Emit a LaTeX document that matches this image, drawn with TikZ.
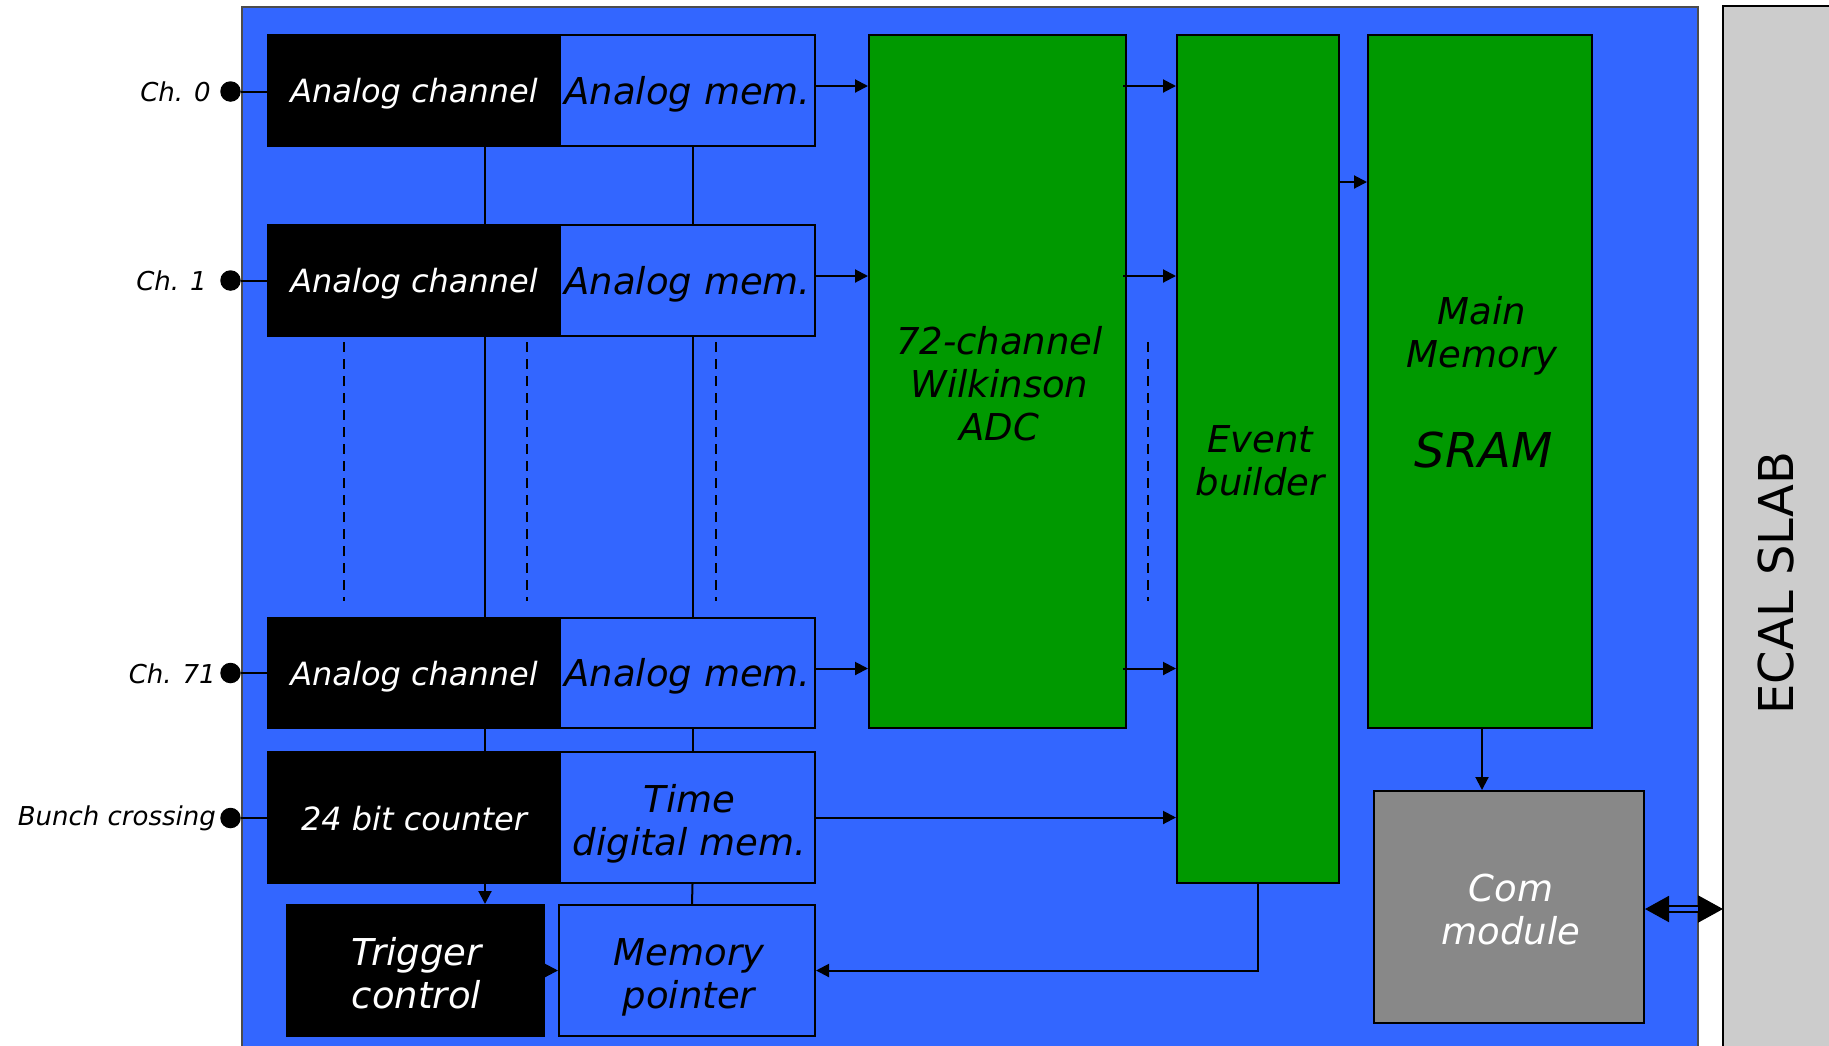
\documentclass[tikz,border=0pt]{standalone}
\usepackage{fontspec}
\setmainfont{DejaVu Sans}
\usetikzlibrary{arrows.meta,calc}
\definecolor{chipblue}{HTML}{3366FF}
\definecolor{blockgreen}{HTML}{009900}
\definecolor{comgray}{HTML}{888888}
\definecolor{slabgray}{HTML}{CCCCCC}
\begin{document}
\begin{tikzpicture}[x=1pt,y=-1pt,
  wire/.style={line width=2pt},
  arr/.style={wire,-{Triangle[length=13pt,width=13pt]}},
  blk/.style={draw=black,line width=2pt,inner sep=0pt},
  darkblk/.style={blk,fill=black},
  memblk/.style={blk,fill=chipblue},
  greenblk/.style={blk,fill=blockgreen},
  txt/.style={inner sep=0pt,align=center,font=\fontsize{37}{43}\selectfont\itshape},
  wtxt/.style={txt,text=white},
  chfont/.style={font=\fontsize{32}{38}\selectfont\itshape},
  pin/.style={circle,fill=black,inner sep=0pt,minimum size=20.5pt},
  pinlbl/.style={anchor=east,inner sep=0pt,font=\fontsize{26}{30}\selectfont\itshape},
  dots/.style={line width=1.5pt,dash pattern=on 10pt off 7pt}]
\useasboundingbox (0,0) rectangle (1829,1045);
\clip (0,0) rectangle (1829,1045);

% chip outline and slab
\fill[chipblue,draw=black!70,line width=2pt] (242,7) rectangle (1698,1080);
\fill[slabgray,draw=black,line width=2pt] (1723,6) rectangle (1860,1080);
\node[rotate=90,font=\fontsize{48}{56}\selectfont] (slab) at (1776,583) {ECAL SLAB};
\coordinate (slabedge) at (1723,909);

% analog channels and memories
\node[darkblk,minimum width=292pt,minimum height=111pt] (ac0) at (414,90.5) {};
\node[memblk,minimum width=255pt,minimum height=111pt] (am0) at (687.5,90.5) {};
\node[darkblk,minimum width=292pt,minimum height=111pt] (ac1) at (414,280.5) {};
\node[memblk,minimum width=255pt,minimum height=111pt] (am1) at (687.5,280.5) {};
\node[darkblk,minimum width=292pt,minimum height=110pt] (ac71) at (414,673) {};
\node[memblk,minimum width=255pt,minimum height=110pt] (am71) at (687.5,673) {};
\foreach \r in {ac0,ac1,ac71}
  \node[wtxt,chfont] (\r t) at ([yshift=-3.5pt]\r.center) {Analog channel};
\foreach \r in {am0,am1,am71}
  \node[txt] (\r t) at ([yshift=-3.5pt]\r.center) {Analog mem.};

% counter, time memory, trigger and pointer
\node[darkblk,minimum width=292pt,minimum height=131pt] (cnt) at (414,817.5) {};
\node[memblk,minimum width=255pt,minimum height=131pt] (tdm) at (687.5,817.5) {};
\node[darkblk,minimum width=257pt,minimum height=131pt] (trig) at (415.5,970.5) {};
\node[memblk,minimum width=256pt,minimum height=131pt] (mptr) at (687,970.5) {};
\node[wtxt,font=\fontsize{32}{38}\selectfont\itshape] (cntt) at ([yshift=-1.5pt]cnt.center) {24 bit counter};
\node[txt] (tdmt) at ([xshift=2pt,yshift=-6pt]tdm.center) {Time\\digital mem.};
\node[wtxt] (trigt) at ([xshift=1pt,yshift=-2.5pt]trig.center) {Trigger\\control};
\node[txt] (mptrt) at ([xshift=2pt,yshift=-7pt]mptr.center) {Memory\\pointer};

% digital blocks
\node[greenblk,minimum width=257pt,minimum height=693pt] (adc) at (997.5,381.5) {};
\node[greenblk,minimum width=162pt,minimum height=848pt] (eb) at (1258,459) {};
\node[greenblk,minimum width=224pt,minimum height=693pt] (mm) at (1480,381.5) {};
\node[blk,fill=comgray,minimum width=270pt,minimum height=232pt] (com) at (1509,907) {};
\node[txt] (adct) at ([xshift=2pt,yshift=-2.5pt]adc.center) {72-channel\\Wilkinson\\ADC};
\node[txt] (ebt) at ([xshift=2pt,yshift=-1.5pt]eb.center) {Event\\builder};
\node[txt] (mmt) at (1482,336) {Main\\Memory};
\node[font=\fontsize{48}{56}\selectfont\itshape,inner sep=0pt] (sram) at (1484,450) {SRAM};
\node[wtxt] (comt) at ([xshift=2pt,yshift=-2.5pt]com.center) {Com\\module};

% input pins
\node[pin] (p0) at (230.5,91.5) {};
\node[pin] (p1) at (230.5,280.5) {};
\node[pin] (p71) at (230.5,673) {};
\node[pin] (pbc) at (230.5,818) {};
\node[pinlbl] (l0) at (211,92) {Ch. 0};
\node[pinlbl] (l1) at (207,281) {Ch. 1};
\node[pinlbl] (l71) at (216,673.5) {Ch. 71};
\node[pinlbl] (lbc) at (216,818.5) {Bunch crossing};
\draw[wire] (p0) -- (p0 -| ac0.west);
\draw[wire] (p1) -- (p1 -| ac1.west);
\draw[wire] (p71) -- (p71 -| ac71.west);
\draw[wire] (pbc) -- (pbc -| cnt.west);

% vertical bus lines
\draw[wire] ([xshift=71pt]ac0.south) -- ([xshift=71pt]ac1.north);
\draw[wire] ([xshift=71pt]ac1.south) -- ([xshift=71pt]ac71.north);
\draw[wire] ([xshift=71pt]ac71.south) -- ([xshift=71pt]cnt.north);
\draw[wire] ([xshift=5pt]am0.south) -- ([xshift=5pt]am1.north);
\draw[wire] ([xshift=5pt]am1.south) -- ([xshift=5pt]am71.north);
\draw[wire] ([xshift=5pt]am71.south) -- ([xshift=5pt]tdm.north);
\draw[wire] ([xshift=5pt]tdm.south) -- ([xshift=5pt]mptr.north);

% elided channels
\foreach \x in {344,527,716,1148}
  \draw[dots] (\x,342) -- (\x,601);

% data flow
\foreach \r in {am0,am1,am71} {
  \draw[arr] ([yshift=4.5pt]\r.east) -- ([yshift=4.5pt]\r.east -| adc.west);
  \draw[arr] ([yshift=4.5pt,xshift=-4pt]\r.east -| adc.east) -- ([yshift=4.5pt]\r.east -| eb.west);
}
\draw[arr] ($(eb.north east)+(0,148)$) -- ($(mm.north west)+(0,148)$);
\draw[arr] (tdm.east) -- (tdm.east -| eb.west);
\draw[arr] ([xshift=2pt]mm.south) -- ([xshift=2pt]mm.south |- com.north);
\draw[arr] (eb.south) |- (mptr.east);
\draw[arr] ([xshift=71pt]cnt.south) -- ([xshift=71pt]cnt.south |- trig.north);
\draw[arr] (trig.east) -- (mptr.west);
\draw[line width=2pt,double=chipblue,double distance=3.5pt,
  {Triangle[length=24pt,width=26pt]}-{Triangle[length=25pt,width=27pt]}]
  ([yshift=-2pt]com.east) -- (slabedge);
\end{tikzpicture}
\end{document}
